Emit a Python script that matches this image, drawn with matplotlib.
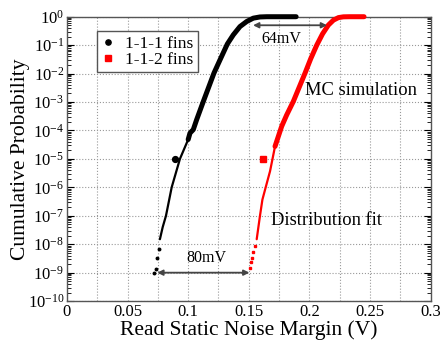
import matplotlib

matplotlib.use('Agg')

import matplotlib.pyplot as plt
import matplotlib.ticker as ticker
import numpy as np


# 1-1-1 fins: Monte Carlo cloud (thick), distribution fit (thin) and sparse tail dots
black_mc_x = [0.1000, 0.1015, 0.1042, 0.1070, 0.1125, 0.1213, 0.1265, 0.1323, 0.1372, 0.1427,
              0.1483, 0.1537, 0.1592, 0.1648, 0.1750, 0.1890]
black_mc_p = [4.8e-5, 8.1e-5, 1.07e-4, 2.4e-4, 1.05e-3, 1.05e-2, 0.032, 0.11, 0.23, 0.45,
              0.68, 0.89, 0.98, 1.0, 1.0, 1.0]
black_fit_x = [0.0767, 0.0790, 0.0817, 0.0864, 0.0932, 0.1000]
black_fit_p = [1.5e-8, 4e-8, 1e-7, 1e-6, 1e-5, 4.8e-5]
black_tail_x = [0.0718, 0.0734, 0.0745, 0.0757]
black_tail_p = [1.0e-9, 1.4e-9, 3.4e-9, 6.6e-9]
black_marker_x = [0.0891]
black_marker_p = [1e-5]

# 1-1-2 fins
red_mc_x = [0.1716, 0.1771, 0.1812, 0.1867, 0.1964, 0.2010, 0.2060, 0.2108, 0.2156, 0.2198,
            0.2239, 0.2280, 0.2330, 0.2450]
red_mc_p = [2.75e-5, 1.4e-4, 3.5e-4, 1.05e-3, 1.05e-2, 0.033, 0.10, 0.25, 0.51, 0.76,
            0.93, 0.99, 1.0, 1.0]
red_fit_x = [0.1565, 0.1592, 0.1612, 0.1634, 0.1675, 0.1716]
red_fit_p = [1.5e-8, 1e-7, 3.7e-7, 8.3e-7, 3.7e-6, 2.75e-5]
red_tail_x = [0.1510, 0.1517, 0.1524, 0.1535, 0.1548]
red_tail_p = [1.5e-9, 2.3e-9, 3.4e-9, 5.5e-9, 9e-9]
red_marker_x = [0.162]
red_marker_p = [1e-5]

# annotation arrows: (x start, x end, probability)
shift_top = (0.1535, 0.2145, 0.5)
shift_bottom = (0.0745, 0.1505, 1e-9)

plt.rcParams['font.family'] = ['Liberation Serif', 'DejaVu Serif']
plt.rcParams['mathtext.fontset'] = 'custom'
plt.rcParams['mathtext.rm'] = 'Liberation Serif'
plt.rcParams['mathtext.it'] = 'Liberation Serif:italic'

fig = plt.figure(figsize=(4.4, 3.41), dpi=100)
ax = fig.add_axes([0.152, 0.117, 0.827, 0.834])

line_kw = dict(solid_capstyle='round', solid_joinstyle='round', zorder=4)
ax.plot(black_mc_x, black_mc_p, color='black', lw=3.6, clip_on=False, **line_kw)
ax.plot(black_fit_x, black_fit_p, color='black', lw=1.6, **line_kw)
ax.plot(black_tail_x, black_tail_p, ls='none', marker='o', ms=1.8, color='black', zorder=4)
ax.plot(black_marker_x, black_marker_p, ls='none', marker='o', ms=4.2, color='black', zorder=4,
        label='1-1-1 fins')

ax.plot(red_mc_x, red_mc_p, color='red', lw=3.6, clip_on=False, **line_kw)
ax.plot(red_fit_x, red_fit_p, color='red', lw=1.6, **line_kw)
ax.plot(red_tail_x, red_tail_p, ls='none', marker='s', ms=1.8, color='red', zorder=4)
ax.plot(red_marker_x, red_marker_p, ls='none', marker='s', ms=4.2, color='red', zorder=4,
        label='1-1-2 fins')

arrow_kw = dict(arrowstyle='<|-|>', color='#444444', lw=1.3, mutation_scale=8, shrinkA=0, shrinkB=0)
ax.annotate('', xy=(shift_top[1], shift_top[2]), xytext=(shift_top[0], shift_top[2]), arrowprops=arrow_kw, zorder=5)
ax.annotate('', xy=(shift_bottom[1], shift_bottom[2]), xytext=(shift_bottom[0], shift_bottom[2]), arrowprops=arrow_kw, zorder=5)

ax.text(0.177, 10 ** -0.79, '64mV', ha='center', va='center', fontsize=11.5)
ax.text(0.1153, 10 ** -8.47, '80mV', ha='center', va='center', fontsize=11.5)
ax.text(0.1964, 10 ** -2.6, 'MC simulation', ha='left', va='center', fontsize=13.3)
ax.text(0.1680, 10 ** -7.18, 'Distribution fit', ha='left', va='center', fontsize=13.3)

ax.set_yscale('log')
ax.set_xlim(0, 0.3)
ax.set_ylim(1e-10, 1)
ax.xaxis.set_major_locator(ticker.MultipleLocator(0.05))
ax.xaxis.set_minor_locator(ticker.MultipleLocator(0.025))
ax.xaxis.set_major_formatter(ticker.FuncFormatter(lambda v, p: '0' if v == 0 else f'{v:g}'))
ax.yaxis.set_major_locator(ticker.LogLocator(base=10, numticks=20))
ax.yaxis.set_minor_locator(ticker.LogLocator(base=10, subs=np.arange(2, 10), numticks=20))
ax.yaxis.set_minor_formatter(ticker.NullFormatter())

ax.tick_params(axis='y', which='both', direction='in', left=True, right=True, labelsize=12, pad=2)
ax.tick_params(axis='y', which='major', length=5, width=0.8)
ax.tick_params(axis='y', which='minor', length=3, width=0.6)
ax.tick_params(axis='x', which='major', direction='in', length=0, labelsize=12, pad=2)
ax.tick_params(axis='x', which='minor', length=0)

ax.grid(True, which='major', axis='y', ls=':', lw=0.8, color='#999999')
ax.grid(True, which='both', axis='x', ls=':', lw=0.8, color='#999999')
ax.set_axisbelow(True)
for s in ax.spines.values():
    s.set_linewidth(1.0)
    s.set_color('#555555')

ax.set_xlabel('Read Static Noise Margin (V)', fontsize=15.5, labelpad=0)
ax.set_ylabel('Cumulative Probability', fontsize=15.5, labelpad=-2)

ax.legend(loc='upper left', bbox_to_anchor=(0.082, 0.948), borderaxespad=0, fontsize=12.5,
          frameon=True, fancybox=False, edgecolor='#555555', framealpha=1,
          handlelength=0.8, handletextpad=0.6, labelspacing=0.0, borderpad=0.25, markerscale=0.9)

fig.savefig('out.png', dpi=100)
